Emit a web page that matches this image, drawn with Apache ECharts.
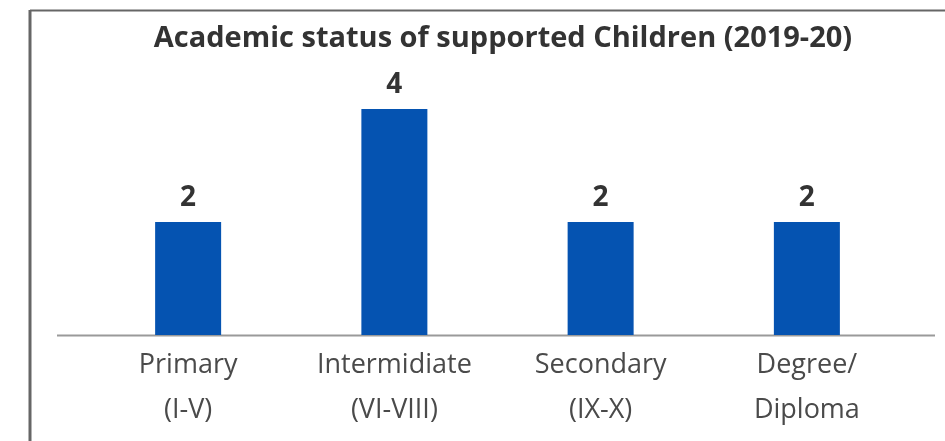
<!DOCTYPE html>
<html>
<head>
<meta charset="utf-8">
<script src="https://cdn.jsdelivr.net/npm/echarts@6/dist/echarts.min.js"></script>
<style>
html,body{margin:0;padding:0;background:#fff;}
#chart{width:945px;height:441px;}
</style>
</head>
<body>
<div id="chart"></div>
<script>
const titleText = 'Academic status of supported Children (2019-20)';
const categories = ['Primary\n(I-V)', 'Intermidiate\n(VI-VIII)', 'Secondary\n(IX-X)', 'Degree/\nDiploma'];
const values = [2, 4, 2, 2];

const chart = echarts.init(document.getElementById('chart'), null, {renderer: 'canvas'});
chart.setOption({
  backgroundColor: '#ffffff',
  animation: false,
  title: {
    text: titleText,
    left: 498,
    textAlign: 'center',
    top: 19,
    textStyle: {fontFamily: 'Open Sans', fontWeight: 'bold', fontSize: 29, color: '#333333'}
  },
  grid: {left: 85, right: 35, top: 109, bottom: 106},
  xAxis: {
    type: 'category',
    data: categories,
    axisLine: {show: false},
    axisTick: {show: false},
    axisLabel: {
      fontFamily: 'Open Sans', fontSize: 27, color: '#4a4a4a',
      lineHeight: 45, margin: 8, interval: 0
    }
  },
  yAxis: {
    type: 'value', min: 0, max: 4, interval: 1,
    show: false, splitLine: {show: false}
  },
  series: [{
    type: 'bar',
    data: values,
    barWidth: 66,
    itemStyle: {color: '#0553b1'},
    label: {
      show: true, position: 'top', distance: 10,
      fontFamily: 'Open Sans', fontWeight: 'bold', fontSize: 28, color: '#333333'
    }
  }],
  graphic: [
    {type: 'line', shape: {x1: 57, y1: 335.5, x2: 935, y2: 335.5}, style: {stroke: '#9a9a9a', lineWidth: 2}},
    {type: 'line', shape: {x1: 30, y1: 10.5, x2: 945, y2: 10.5}, style: {stroke: '#666666', lineWidth: 2}},
    {type: 'line', shape: {x1: 30, y1: 10, x2: 30, y2: 441}, style: {stroke: '#666666', lineWidth: 3}}
  ]
});
</script>
</body>
</html>
